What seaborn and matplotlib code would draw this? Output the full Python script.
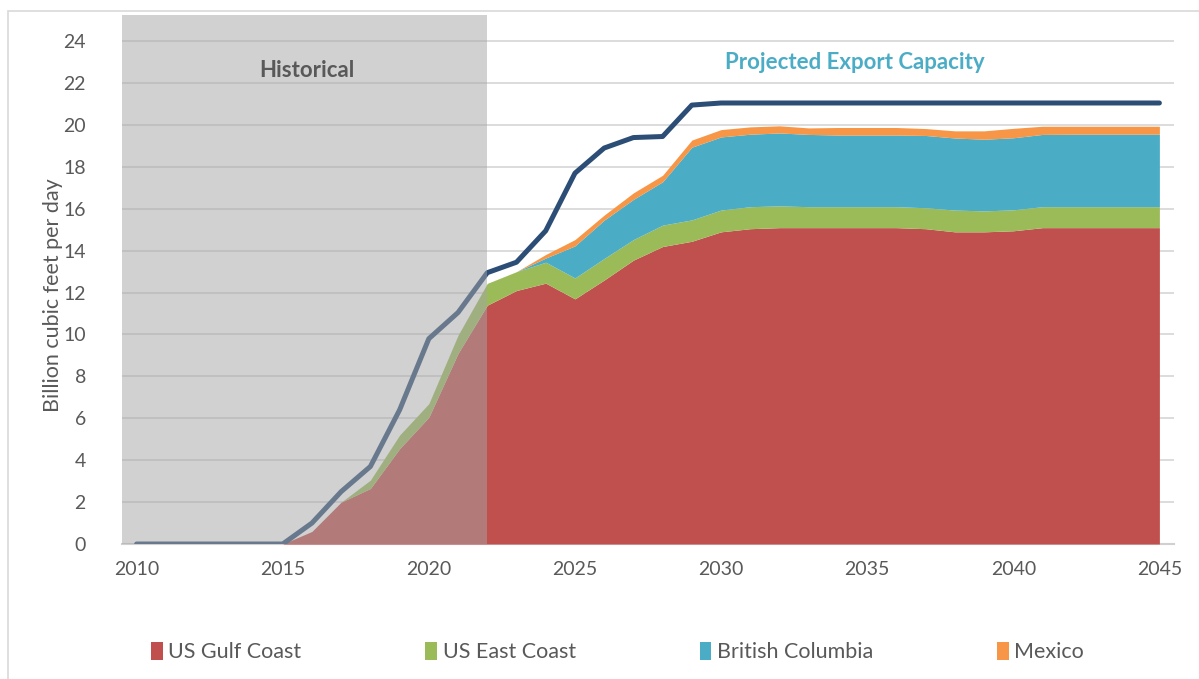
import seaborn as sns
import numpy as np
import pandas as pd
import matplotlib.pyplot as plt
from matplotlib.patches import Rectangle

years = list(range(2010, 2046))

gulf_coast = [0, 0, 0, 0, 0, 0, 0.6, 2.0, 2.65, 4.55, 6.05, 9.1, 11.4, 12.1, 12.45, 11.7,
              12.6, 13.55, 14.2, 14.45, 14.9, 15.05, 15.1, 15.1, 15.1, 15.1, 15.1, 15.05,
              14.9, 14.9, 14.95, 15.1, 15.1, 15.1, 15.1, 15.1]
east_coast = [0, 0, 0, 0, 0, 0, 0, 0, 0.4, 0.65, 0.65, 0.87, 1.04, 0.9, 1.0, 1.0,
              1.03, 0.98, 1.02, 1.02, 1.04, 1.05, 1.04, 1.0, 1.0, 1.0, 1.0, 1.0,
              1.04, 1.0, 1.0, 1.0, 1.0, 1.0, 1.0, 1.0]
british_columbia = [0, 0, 0, 0, 0, 0, 0, 0, 0, 0, 0, 0, 0, 0, 0.2, 1.53,
                    1.83, 1.92, 2.07, 3.47, 3.49, 3.46, 3.48, 3.45, 3.42, 3.42, 3.42, 3.45,
                    3.44, 3.42, 3.44, 3.45, 3.46, 3.46, 3.46, 3.46]
mexico = [0, 0, 0, 0, 0, 0, 0, 0, 0, 0, 0, 0, 0, 0, 0.17, 0.3,
          0.24, 0.31, 0.31, 0.34, 0.35, 0.35, 0.34, 0.31, 0.36, 0.36, 0.36, 0.33,
          0.34, 0.4, 0.45, 0.39, 0.38, 0.38, 0.38, 0.38]
total_capacity = [0, 0, 0, 0, 0, 0, 1.0, 2.5, 3.7, 6.4, 9.8, 11.05, 12.95, 13.45, 14.95, 17.7,
                  18.9, 19.4, 19.45, 20.95, 21.05, 21.05, 21.05, 21.05, 21.05, 21.05, 21.05, 21.05,
                  21.05, 21.05, 21.05, 21.05, 21.05, 21.05, 21.05, 21.05]

series_names = ["US Gulf Coast", "US East Coast", "British Columbia", "Mexico"]
series_colors = ["#C0504D", "#9BBB59", "#4BACC6", "#F79646"]
line_color = "#2C4D76"
text_gray = "#595959"

sns.set_theme(style="white")
plt.rcParams['font.family'] = ['Lato', 'DejaVu Sans']

df = pd.DataFrame({"year": years, "total": total_capacity})

fig = plt.figure(figsize=(11.99, 6.79), dpi=100)
ax = fig.add_axes([122 / 1199, 1 - 544 / 679, (1174 - 122) / 1199, (544 - 15) / 679])

ax.stackplot(years, gulf_coast, east_coast, british_columbia, mexico,
             colors=series_colors, labels=series_names, zorder=2, lw=0)
sns.lineplot(data=df, x="year", y="total", ax=ax, color=line_color, lw=3.6,
             zorder=3, solid_capstyle="round", legend=False)
if ax.get_legend() is not None:
    ax.get_legend().remove()

# historical shading sits on top of everything
ax.axvspan(2009.5, 2022, color="#A5A5A5", alpha=0.5, lw=0, zorder=4)

ax.set_xlim(2009.5, 2045.5)
ax.set_ylim(0, 25.25)
ax.set_yticks(range(0, 25, 2))
ax.set_xticks(range(2010, 2046, 5))
ax.yaxis.grid(True, color="#D9D9D9", lw=1.3, zorder=0)
ax.set_axisbelow(True)
for s in ["top", "right", "left"]:
    ax.spines[s].set_visible(False)
ax.spines["bottom"].set_color("#D0D0D0")
ax.spines["bottom"].set_linewidth(1.5)
ax.spines["bottom"].set_zorder(1)
ax.tick_params(axis="both", length=0, labelsize=14, labelcolor=text_gray)
ax.tick_params(axis="y", pad=26)
ax.tick_params(axis="x", pad=12)
ax.set_xlabel("")
ax.set_ylabel("Billion cubic feet per day", fontsize=15.5, color=text_gray)
ax.yaxis.set_label_coords(-0.056, 0.47)

ax.text(2015.82, 22.6, "Historical", ha="center", va="center", fontsize=16,
        fontweight="bold", color=text_gray, zorder=5)
ax.text(2034.57, 23.0, "Projected Export Capacity", ha="center", va="center",
        fontsize=16, fontweight="bold", color="#4BACC6", zorder=5)

handles, labels = ax.get_legend_handles_labels()
fig.legend(handles[:4], labels[:4], loc="center", bbox_to_anchor=(0.515, 1 - 652 / 679),
           ncol=4, frameon=False, fontsize=15.5, labelcolor=text_gray,
           handlelength=0.55, handleheight=0.9, handletextpad=0.25, columnspacing=5.75)

fig.patches.append(Rectangle((8 / 1199, -0.1), 1.2, 1.1 - 11 / 679, transform=fig.transFigure,
                             fill=False, edgecolor="#D9D9D9", lw=1.2))

fig.savefig("out.png", dpi=100)
